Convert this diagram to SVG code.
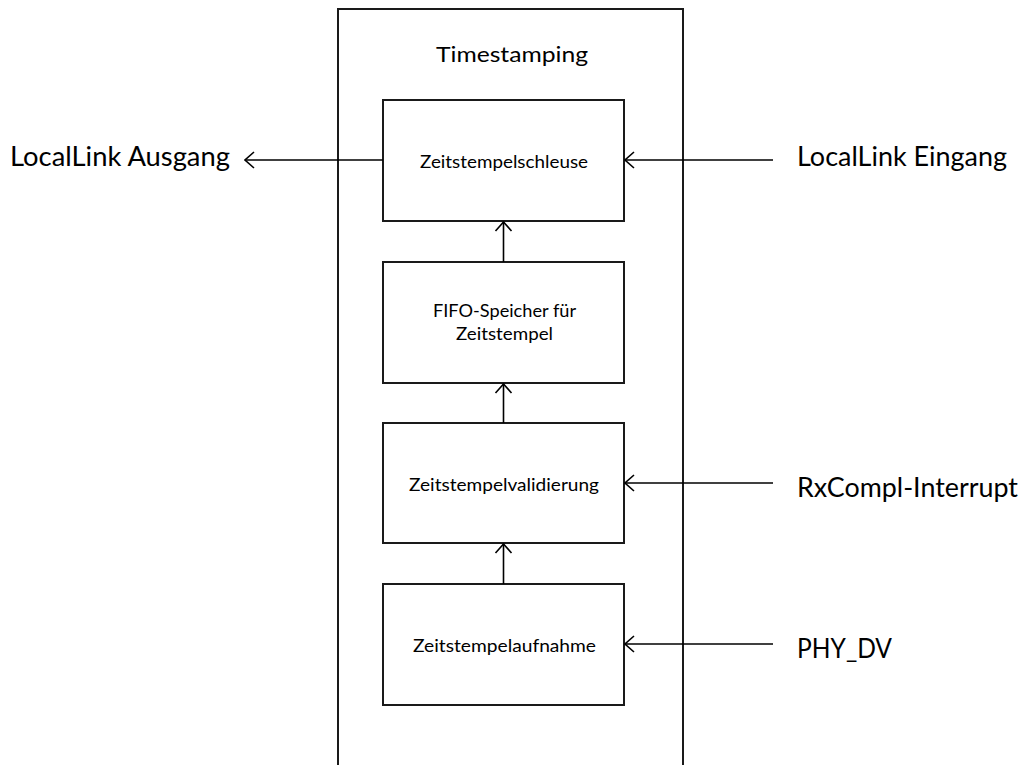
<svg xmlns="http://www.w3.org/2000/svg" width="1027" height="765" viewBox="0 0 1027 765">
  <defs>
    <!-- open V arrowhead, tip at the end of the line -->
    <marker id="open-arrow" viewBox="0 0 12 20" refX="11" refY="10" markerWidth="12" markerHeight="20" markerUnits="userSpaceOnUse" orient="auto">
      <path d="M2,2 L11,10 L2,18" fill="none" stroke="#000" stroke-width="1.6"/>
    </marker>
    <style>
      .frame { fill: #fff; stroke: #1a1a1a; stroke-width: 2; }
      .box { fill: #fff; stroke: #1a1a1a; stroke-width: 2; }
      .wire { fill: none; stroke: #000; stroke-width: 1.6; marker-end: url(#open-arrow); }
      .title { font-family: Lato, "Open Sans", sans-serif; font-size: 21px; fill: #000; }
      .lbl { font-family: Lato, "Open Sans", sans-serif; font-size: 17px; fill: #000; }
      .ext { font-family: Lato, "Open Sans", sans-serif; font-size: 27px; fill: #000; }
    </style>
  </defs>

  <rect width="1027" height="765" fill="#fff"/>

  <!-- outer timestamping module, open at the bottom edge -->
  <g id="timestamping">
    <rect class="frame" x="338" y="9" width="345" height="780"/>
    <text class="title" x="436" y="62" textLength="152" lengthAdjust="spacingAndGlyphs">Timestamping</text>
  </g>

  <g id="schleuse">
    <rect class="box" x="383" y="100" width="241" height="121"/>
    <text class="lbl" x="420" y="168" textLength="168" lengthAdjust="spacingAndGlyphs">Zeitstempelschleuse</text>
  </g>

  <g id="fifo">
    <rect class="box" x="383" y="262" width="241" height="121"/>
    <text class="lbl" x="433" y="317" textLength="143" lengthAdjust="spacingAndGlyphs">FIFO-Speicher für</text>
    <text class="lbl" x="456" y="340" textLength="97" lengthAdjust="spacingAndGlyphs">Zeitstempel</text>
  </g>

  <g id="validierung">
    <rect class="box" x="383" y="423" width="241" height="120"/>
    <text class="lbl" x="409" y="491" textLength="190" lengthAdjust="spacingAndGlyphs">Zeitstempelvalidierung</text>
  </g>

  <g id="aufnahme">
    <rect class="box" x="383" y="584" width="241" height="121"/>
    <text class="lbl" x="413" y="652" textLength="183" lengthAdjust="spacingAndGlyphs">Zeitstempelaufnahme</text>
  </g>

  <g id="ll-ausgang">
    <text class="ext" x="10" y="166" textLength="220" lengthAdjust="spacingAndGlyphs">LocalLink Ausgang</text>
  </g>
  <g id="ll-eingang">
    <text class="ext" x="797" y="166" textLength="210" lengthAdjust="spacingAndGlyphs">LocalLink Eingang</text>
  </g>
  <g id="rxcompl">
    <text class="ext" x="797" y="497" textLength="221" lengthAdjust="spacingAndGlyphs">RxCompl-Interrupt</text>
  </g>
  <g id="phy-dv">
    <text class="ext" x="797" y="658" textLength="95" lengthAdjust="spacingAndGlyphs">PHY_DV</text>
  </g>

  <!-- connectors, drawn from source to target -->
  <g id="connectors">
    <path class="wire" d="M383,160 H245"/>
    <path class="wire" d="M773,160 H625"/>
    <path class="wire" d="M503.5,262 V222"/>
    <path class="wire" d="M503.5,423 V384"/>
    <path class="wire" d="M773,483 H625"/>
    <path class="wire" d="M503.5,584 V544"/>
    <path class="wire" d="M773,644 H625"/>
  </g>
</svg>
